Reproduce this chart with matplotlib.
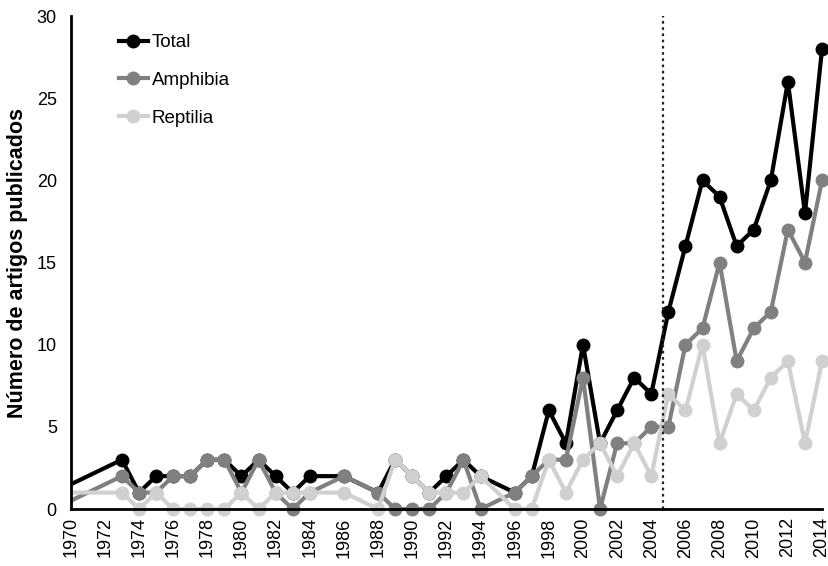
import matplotlib.pyplot as plt
from matplotlib.patches import Rectangle

plt.rcParams['font.family'] = ['Liberation Sans', 'DejaVu Sans']

# anos com publicações (1969 fica fora do eixo, só para a linha inicial)
years = [1969, 1973, 1974, 1975, 1976, 1977, 1978, 1979, 1980, 1981, 1982,
         1983, 1984, 1986, 1988, 1989, 1990, 1991, 1992, 1993, 1994, 1996,
         1997, 1998, 1999, 2000, 2001, 2002, 2003, 2004, 2005, 2006, 2007,
         2008, 2009, 2010, 2011, 2012, 2013, 2014]
total = [1, 3, 1, 2, 2, 2, 3, 3, 2, 3, 2,
         1, 2, 2, 1, 3, 2, 1, 2, 3, 2, 1,
         2, 6, 4, 10, 4, 6, 8, 7, 12, 16, 20,
         19, 16, 17, 20, 26, 18, 28]
amphibia = [0, 2, 1, 1, 2, 2, 3, 3, 1, 3, 1,
            0, 1, 2, 1, 0, 0, 0, 1, 3, 0, 1,
            2, 3, 3, 8, 0, 4, 4, 5, 5, 10, 11,
            15, 9, 11, 12, 17, 15, 20]
reptilia = [1, 1, 0, 1, 0, 0, 0, 0, 1, 0, 1,
            1, 1, 1, 0, 3, 2, 1, 1, 1, 2, 0,
            0, 3, 1, 3, 4, 2, 4, 2, 7, 6, 10,
            4, 7, 6, 8, 9, 4, 9]
xticks = list(range(1970, 2015, 2))
cutoff = 2004.7

fig = plt.figure(figsize=(8.29, 5.66), dpi=100)
ax = fig.add_axes([0.0853, 0.1007, 0.9063, 0.871])

clip = Rectangle((0, -0.05), 1.05, 1.1, transform=ax.transAxes,
                 facecolor='none', edgecolor='none')
ax.add_patch(clip)

series = [(total, '#000000', 'Total'),
          (amphibia, '#808080', 'Amphibia'),
          (reptilia, '#d0d0d0', 'Reptilia')]
for vals, col, lab in series:
    ln, = ax.plot(years, vals, color=col, lw=3, marker='o', ms=9,
                  markerfacecolor=col, markeredgecolor=col, label=lab)
    ln.set_clip_path(clip)

ax.axvline(cutoff, color='#222222', lw=1.6, ls=(0, (1.2, 1.6)))

ax.set_xlim(1970, 2014)
ax.set_ylim(0, 30)
ax.set_xticks(xticks)
ax.set_xticklabels([str(y) for y in xticks], rotation=90)
ax.set_yticks(range(0, 31, 5))
ax.tick_params(length=0, labelsize=13)
ax.tick_params(axis='y', pad=10)
ax.tick_params(axis='x', pad=6)
ax.set_ylabel('Número de artigos publicados', fontsize=15.5,
              fontweight='bold', labelpad=6)

for s in ['top', 'right']:
    ax.spines[s].set_visible(False)
for s in ['left', 'bottom']:
    ax.spines[s].set_linewidth(2)
    ax.spines[s].set_color('black')

ax.legend(loc='upper left', bbox_to_anchor=(0.064, 0.963), frameon=False,
          fontsize=13.5, handlelength=1.55, handletextpad=0.2,
          labelspacing=1.09, borderpad=0, borderaxespad=0)

plt.savefig('out.png', dpi=100)
